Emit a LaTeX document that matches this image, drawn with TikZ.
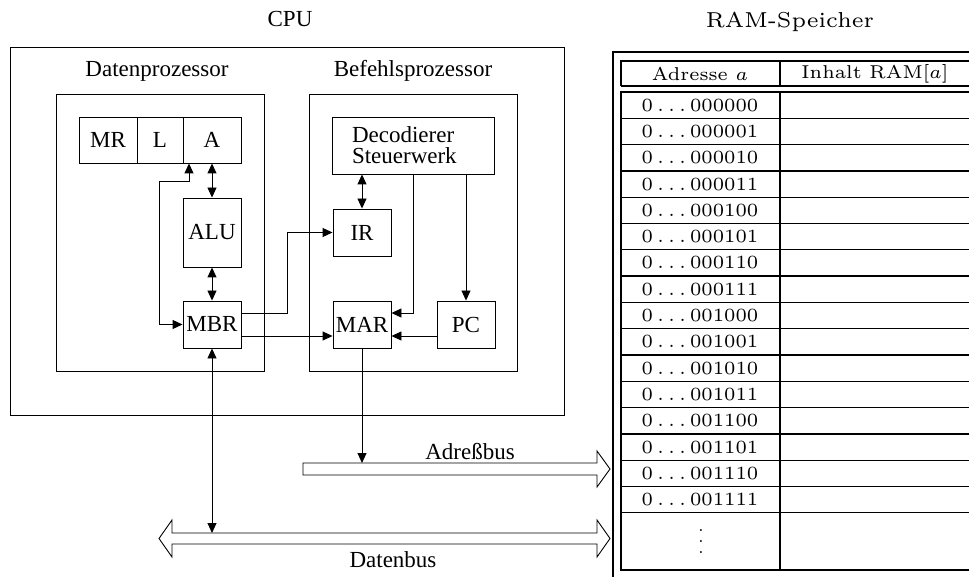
\documentclass[tikz,border=0pt]{standalone}
\usepackage{fontspec}
\usetikzlibrary{arrows.meta}
\newfontfamily\tms{Liberation Serif}
\newcommand\ramtxt[2][3.1]{\scalebox{#1}{\fontsize{6}{7}\selectfont #2}}
\tikzset{
  tfont/.style={font=\tms\fontsize{23}{21}\selectfont},
  box/.style={draw, line width=0.9pt, inner sep=0pt, tfont},
  ln/.style={line width=0.9pt},
  tip/.style={-{Triangle[length=10pt,width=9pt]}},
  dtip/.style={{Triangle[length=10pt,width=9pt]}-{Triangle[length=10pt,width=9pt]}},
  rowline/.style={line width=1.3pt},
  thickl/.style={line width=2.4pt},
}
\begin{document}
\begin{tikzpicture}[x=1pt,y=-1pt]
\clip (0,0) rectangle (969,577);
\fill[white] (0,0) rectangle (969,577);

% titles
\node[tfont] (cpu) at (290,19) {CPU};
\node[tfont] (dpt) at (157,71) {Datenprozessor};
\node[tfont] (bpt) at (413,71) {Befehlsprozessor};

% frames
\node[box, minimum width=554, minimum height=368] (cpubox) at (287,231.5) {};
\node[box, minimum width=208, minimum height=277] (dp) at (160,232.5) {};
\node[box, minimum width=208, minimum height=277] (bp) at (413.5,232.5) {};

% registers
\node[box, minimum width=58, minimum height=46] (MR) at (108,140) {MR};
\node[box, minimum width=46, minimum height=46] (L) at (160,140) {L};
\node[box, minimum width=58, minimum height=46] (A) at (212,140) {A};
\node[box, minimum width=58, minimum height=69] (ALU) at (212,232.5) {ALU};
\node[box, minimum width=58, minimum height=47] (MBR) at (212,324.5) {MBR};
\node[box, minimum width=58, minimum height=47] (IR) at (362,232.5) {IR};
\node[box, minimum width=58, minimum height=47] (MAR) at (362,324.5) {MAR};
\node[box, minimum width=58, minimum height=47] (PC) at (466,324.5) {PC};
\node[box, minimum width=162, minimum height=57, align=left, text width=122pt] (dec) at (413,145.5) {Decodierer\\Steuerwerk};

% buses
\draw[ln] (303,463) -- (597,463) -- (597,451) -- (610,469) -- (597,487) -- (597,475) -- (303,475) -- cycle;
\draw[ln] (159,538.5) -- (172,520) -- (172,533) -- (597,533) -- (597,520) -- (610,538.5) -- (597,557) -- (597,544) -- (172,544) -- (172,557) -- cycle;
\coordinate (adrtop) at (303,463);
\coordinate (dattop) at (172,533);
\node[tfont] (adrl) at (470,452) {Adreßbus};
\node[tfont] (datl) at (393,560) {Datenbus};

% connectors
\draw[ln,dtip] (A.south) -- (ALU.north);
\draw[ln,dtip] (ALU.south) -- (MBR.north);
\draw[ln,dtip] ([xshift=-23pt]A.south) -- ++(0,18) -| ([xshift=-23pt]MBR.west) -- (MBR.west);
\draw[ln,tip] ([yshift=11.5pt]MBR.east) -- ++(46,0) |- (IR.west);
\draw[ln,tip] ([yshift=-11.5pt]MBR.east) -- ([yshift=-11.5pt]MAR.west);
\draw[ln,tip] ([yshift=-11.5pt]PC.west) -- ([yshift=-11.5pt]MAR.east);
\draw[ln,tip] (dec.south) |- ([yshift=11.5pt]MAR.east);
\draw[ln,tip] (dec.south -| PC.north) -- (PC.north);
\draw[ln,dtip] (dec.south -| IR.north) -- (IR.north);
\draw[ln,tip] (MAR.south) -- (MAR.south |- adrtop);
\draw[ln,dtip] (MBR.south) -- (MBR.south |- dattop);

% RAM
\node (ramt) at (790,22) {\ramtxt[3.6]{RAM-Speicher}};
\draw[thickl] (613,580) -- (613,52) -- (975,52);
\draw[rowline] (621,61) -- (975,61);
\draw[rowline] (621,86) -- (975,86);
\draw[thickl] (621,60.5) -- (621,86.5);
\draw[thickl] (621,91.5) -- (621,570.5);
\draw[rowline] (780,61) -- (780,86);
\draw[rowline] (780,92) -- (780,570);
\node (hA) at (700,74) {\ramtxt{Adresse $a$}};
\node (hB) at (875,74) {\ramtxt{Inhalt RAM$[a]$}};
\foreach \i/\t in {0/000000,1/000001,2/000010,3/000011,4/000100,5/000101,6/000110,7/000111,8/001000,9/001001,10/001010,11/001011,12/001100,13/001101,14/001110,15/001111}{
  \draw[rowline] (621,92+26.3*\i) -- (975,92+26.3*\i);
  \node (r\i) at (700,105.15+26.3*\i) {\ramtxt{$0\ldots\t$}};
}
\draw[rowline] (621,512.8) -- (975,512.8);
\draw[rowline] (621,570) -- (975,570);
\node[inner sep=0pt, anchor=base] (dots) at (701,553) {\ramtxt[2.75]{$\vdots$}};
\end{tikzpicture}
\end{document}
